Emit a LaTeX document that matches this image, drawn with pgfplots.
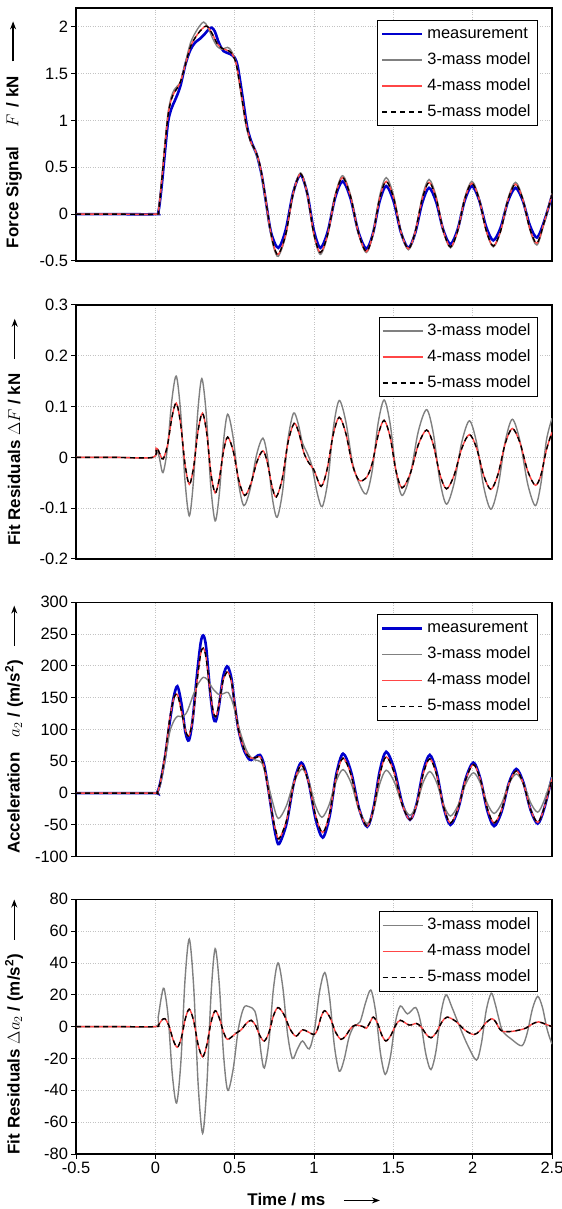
\documentclass[border=0pt]{standalone}
\usepackage{pgfplots}
\pgfplotsset{compat=1.18}
\usepackage{pgfplotstable}
\usetikzlibrary{arrows.meta}
\usepackage{fontspec}
\setmainfont{Liberation Sans}

\definecolor{measblue}{RGB}{0,0,205}
\definecolor{mgray}{RGB}{128,128,128}
\definecolor{mred}{RGB}{255,70,70}
\definecolor{gridgray}{RGB}{195,195,195}

\newcommand{\yarrow}{\tikz[baseline=-0.6ex]\draw[-{Stealth[length=8bp,width=6bp]},line width=1.2bp](0,0)--(40bp,0);}

% ---------- Panel 1: force ----------
\pgfplotstableread[row sep=\\]{x y\\
-0.5 0\\ -0.25 0\\ 0 0\\ 0.02 0.03\\ 0.04 0.3\\ 0.06 0.65\\ 0.08 0.98\\ 0.10 1.12\\ 0.12 1.2\\ 0.14 1.28\\ 0.16 1.38\\ 0.19 1.6\\ 0.22 1.75\\ 0.25 1.83\\ 0.28 1.87\\ 0.31 1.92\\ 0.335 1.97\\ 0.355 1.99\\ 0.375 1.95\\ 0.40 1.83\\ 0.43 1.74\\ 0.47 1.71\\ 0.50 1.67\\ 0.52 1.57\\ 0.55 1.25\\ 0.58 0.92\\ 0.61 0.75\\ 0.64 0.63\\ 0.67 0.42\\ 0.70 0.10\\ 0.73 -0.20\\ 0.775 -0.36\\
0.822 -0.165\\ 0.868 0.225\\ 0.915 0.42\\ 0.957 0.225\\ 0.998 -0.165\\ 1.04 -0.36\\ 1.087 -0.183\\ 1.133 0.173\\ 1.18 0.35\\ 1.23 0.17\\ 1.28 -0.19\\ 1.33 -0.37\\ 1.372 -0.203\\ 1.413 0.133\\ 1.455 0.30\\ 1.502 0.135\\ 1.548 -0.195\\ 1.595 -0.36\\ 1.638 -0.2\\ 1.682 0.12\\ 1.725 0.28\\ 1.77 0.13\\ 1.815 -0.17\\ 1.86 -0.32\\ 1.905 -0.165\\ 1.95 0.145\\ 1.995 0.30\\ 2.04 0.155\\ 2.085 -0.135\\ 2.13 -0.28\\ 2.177 -0.14\\ 2.223 0.14\\ 2.27 0.28\\ 2.315 0.148\\ 2.36 -0.118\\ 2.405 -0.25\\ 2.45 -0.08\\ 2.5 0.2\\
}\Fmeas
\pgfplotstableread[row sep=\\]{x y\\
-0.5 0\\ -0.25 0\\ 0 0\\ 0.02 0.04\\ 0.04 0.37\\ 0.06 0.75\\ 0.08 1.08\\ 0.10 1.25\\ 0.12 1.33\\ 0.14 1.37\\ 0.16 1.42\\ 0.19 1.62\\ 0.22 1.82\\ 0.25 1.93\\ 0.28 2.01\\ 0.305 2.05\\ 0.33 2.0\\ 0.36 1.88\\ 0.39 1.79\\ 0.42 1.76\\ 0.455 1.78\\ 0.48 1.74\\ 0.51 1.6\\ 0.54 1.28\\ 0.57 0.96\\ 0.60 0.77\\ 0.63 0.67\\ 0.66 0.5\\ 0.69 0.2\\ 0.72 -0.14\\ 0.745 -0.35\\ 0.775 -0.45\\
0.822 -0.228\\ 0.868 0.218\\ 0.915 0.44\\ 0.957 0.223\\ 0.998 -0.213\\ 1.04 -0.43\\ 1.087 -0.22\\ 1.133 0.2\\ 1.18 0.41\\ 1.23 0.205\\ 1.28 -0.205\\ 1.33 -0.41\\ 1.372 -0.21\\ 1.413 0.19\\ 1.455 0.39\\ 1.502 0.198\\ 1.548 -0.188\\ 1.595 -0.38\\ 1.638 -0.193\\ 1.682 0.183\\ 1.725 0.37\\ 1.77 0.188\\ 1.815 -0.178\\ 1.86 -0.36\\ 1.905 -0.183\\ 1.95 0.173\\ 1.995 0.35\\ 2.04 0.175\\ 2.085 -0.175\\ 2.13 -0.35\\ 2.177 -0.178\\ 2.223 0.168\\ 2.27 0.34\\ 2.315 0.173\\ 2.36 -0.163\\ 2.405 -0.33\\ 2.45 -0.1\\ 2.5 0.22\\
}\Fthree
\pgfplotstableread[row sep=\\]{x y\\
-0.5 0\\ -0.25 0\\ 0 0\\ 0.02 0.04\\ 0.04 0.35\\ 0.06 0.72\\ 0.08 1.05\\ 0.10 1.22\\ 0.12 1.3\\ 0.14 1.35\\ 0.16 1.42\\ 0.19 1.6\\ 0.22 1.78\\ 0.25 1.88\\ 0.28 1.95\\ 0.31 2.0\\ 0.33 2.0\\ 0.36 1.92\\ 0.39 1.82\\ 0.42 1.77\\ 0.45 1.75\\ 0.48 1.72\\ 0.51 1.6\\ 0.54 1.3\\ 0.57 0.98\\ 0.60 0.78\\ 0.63 0.68\\ 0.66 0.52\\ 0.69 0.22\\ 0.72 -0.12\\ 0.745 -0.33\\ 0.775 -0.43\\
0.822 -0.215\\ 0.868 0.215\\ 0.915 0.43\\ 0.957 0.22\\ 0.998 -0.2\\ 1.04 -0.41\\ 1.087 -0.21\\ 1.133 0.19\\ 1.18 0.39\\ 1.23 0.19\\ 1.28 -0.2\\ 1.33 -0.40\\ 1.372 -0.21\\ 1.413 0.16\\ 1.455 0.35\\ 1.502 0.17\\ 1.548 -0.19\\ 1.595 -0.37\\ 1.638 -0.19\\ 1.682 0.16\\ 1.725 0.34\\ 1.77 0.168\\ 1.815 -0.178\\ 1.86 -0.35\\ 1.905 -0.18\\ 1.95 0.16\\ 1.995 0.33\\ 2.04 0.163\\ 2.085 -0.173\\ 2.13 -0.34\\ 2.177 -0.175\\ 2.223 0.155\\ 2.27 0.32\\ 2.315 0.163\\ 2.36 -0.153\\ 2.405 -0.31\\ 2.45 -0.09\\ 2.5 0.21\\
}\Ffour

% ---------- Panel 2: force residuals ----------
\pgfplotstableread[row sep=\\]{x y\\
-0.5 0\\ -0.25 0\\ -0.015 0\\ 0.005 0.016\\ 0.025 0.0\\ 0.048 -0.03\\ 0.076 0.0175\\ 0.104 0.1125\\ 0.132 0.16\\ 0.159 0.091\\ 0.187 -0.046\\ 0.214 -0.115\\ 0.240 -0.0475\\ 0.267 0.0875\\ 0.293 0.155\\ 0.321 0.085\\ 0.349 -0.055\\ 0.377 -0.125\\ 0.403 -0.0725\\ 0.430 0.0325\\ 0.456 0.085\\ 0.49 0.04\\ 0.524 -0.05\\ 0.558 -0.095\\ 0.598 -0.062\\ 0.638 0.005\\ 0.678 0.038\\ 0.708 -0.001\\ 0.737 -0.079\\ 0.767 -0.118\\ 0.802 -0.067\\ 0.836 0.036\\ 0.871 0.087\\ 0.899 0.068\\ 0.927 0.029\\ 0.955 0.01\\ 0.987 -0.017\\ 1.02 -0.07\\ 1.052 -0.097\\ 1.088 -0.045\\ 1.123 0.06\\ 1.159 0.112\\ 1.2 0.0715\\ 1.242 -0.0095\\ 1.283 -0.05\\ 1.329 -0.072\\ 1.367 -0.026\\ 1.404 0.067\\ 1.442 0.113\\ 1.48 0.066\\ 1.517 -0.028\\ 1.555 -0.075\\ 1.607 -0.033\\ 1.658 0.052\\ 1.71 0.094\\ 1.752 0.0475\\ 1.793 -0.0455\\ 1.835 -0.092\\ 1.883 -0.051\\ 1.932 0.031\\ 1.98 0.072\\ 2.025 0.0285\\ 2.07 -0.0585\\ 2.115 -0.102\\ 2.16 -0.058\\ 2.205 0.031\\ 2.25 0.075\\ 2.298 0.0325\\ 2.347 -0.0525\\ 2.395 -0.095\\ 2.43 -0.052\\ 2.465 0.034\\ 2.5 0.077\\
}\dFthree
\pgfplotstableread[row sep=\\]{x y\\
-0.5 0\\ -0.25 0\\ -0.015 0\\ 0.005 0.018\\ 0.02 0.013\\ 0.035 0.002\\ 0.05 -0.003\\ 0.077 0.0245\\ 0.105 0.0795\\ 0.132 0.107\\ 0.159 0.067\\ 0.187 -0.013\\ 0.214 -0.053\\ 0.242 -0.018\\ 0.269 0.052\\ 0.297 0.087\\ 0.324 0.0478\\ 0.35 -0.0308\\ 0.377 -0.07\\ 0.403 -0.0425\\ 0.43 0.0125\\ 0.456 0.04\\ 0.492 0.0113\\ 0.527 -0.0463\\ 0.563 -0.075\\ 0.601 -0.053\\ 0.64 -0.009\\ 0.678 0.013\\ 0.706 -0.0098\\ 0.734 -0.0553\\ 0.762 -0.078\\ 0.8 -0.0418\\ 0.837 0.0308\\ 0.875 0.067\\ 0.905 0.0478\\ 0.936 0.0093\\ 0.966 -0.01\\ 1.0 -0.025\\ 1.045 -0.057\\ 1.083 -0.023\\ 1.121 0.045\\ 1.159 0.079\\ 1.2 0.048\\ 1.242 -0.014\\ 1.283 -0.045\\ 1.33 -0.04\\ 1.367 -0.0118\\ 1.405 0.0448\\ 1.442 0.073\\ 1.48 0.0398\\ 1.517 -0.0268\\ 1.555 -0.06\\ 1.607 -0.0315\\ 1.658 0.0255\\ 1.71 0.054\\ 1.752 0.025\\ 1.793 -0.033\\ 1.835 -0.062\\ 1.883 -0.0353\\ 1.932 0.0183\\ 1.98 0.045\\ 2.025 0.018\\ 2.07 -0.036\\ 2.115 -0.063\\ 2.16 -0.033\\ 2.205 0.027\\ 2.25 0.057\\ 2.298 0.029\\ 2.347 -0.027\\ 2.395 -0.055\\ 2.43 -0.035\\ 2.465 0.015\\ 2.5 0.05\\
}\dFfour

% ---------- Panel 3: acceleration ----------
\pgfplotstableread[row sep=\\]{x y\\
-0.5 0\\ -0.25 0\\ 0 0\\ 0.01 0\\ 0.03 15\\ 0.06 55\\ 0.09 110\\ 0.115 150\\ 0.139 168\\ 0.165 140\\ 0.19 95\\ 0.212 83\\ 0.235 115\\ 0.26 180\\ 0.285 235\\ 0.302 248\\ 0.32 230\\ 0.345 160\\ 0.365 120\\ 0.381 113\\ 0.40 135\\ 0.425 180\\ 0.445 197\\ 0.459 198\\ 0.48 180\\ 0.50 140\\ 0.524 100\\ 0.555 70\\ 0.585 55\\ 0.604 52\\ 0.635 57\\ 0.66 60\\ 0.685 45\\ 0.71 10\\ 0.74 -40\\ 0.76 -68\\ 0.78 -80\\
0.827 -48\\ 0.873 16\\ 0.92 48\\ 0.965 18.5\\ 1.01 -40.5\\ 1.055 -70\\ 1.098 -37\\ 1.14 29\\ 1.183 62\\ 1.234 33.25\\ 1.284 -24.25\\ 1.335 -53\\ 1.375 -23.5\\ 1.415 35.5\\ 1.455 65\\ 1.505 38.25\\ 1.555 -15.25\\ 1.605 -42\\ 1.647 -16.5\\ 1.688 34.5\\ 1.73 60\\ 1.773 32.5\\ 1.817 -22.5\\ 1.86 -50\\ 1.908 -25.5\\ 1.957 23.5\\ 2.005 48\\ 2.048 23\\ 2.092 -27\\ 2.135 -52\\ 2.182 -29.5\\ 2.228 15.5\\ 2.275 38\\ 2.32 16.5\\ 2.365 -26.5\\ 2.41 -48\\ 2.45 -25\\ 2.5 25\\
}\Ameas
\pgfplotstableread[row sep=\\]{x y\\
-0.5 0\\ -0.25 0\\ 0 0\\ 0.01 0\\ 0.03 12\\ 0.06 50\\ 0.09 95\\ 0.12 115\\ 0.143 121\\ 0.17 120\\ 0.2 128\\ 0.24 155\\ 0.27 172\\ 0.302 182\\ 0.33 178\\ 0.36 165\\ 0.4 155\\ 0.435 157\\ 0.46 158\\ 0.49 140\\ 0.53 100\\ 0.57 70\\ 0.6 57\\ 0.63 52\\ 0.67 48\\ 0.7 25\\ 0.74 -15\\ 0.775 -40\\
0.825 -20.5\\ 0.875 18.5\\ 0.925 38\\ 0.967 19\\ 1.008 -19\\ 1.05 -38\\ 1.094 -19.25\\ 1.139 18.25\\ 1.183 37\\ 1.234 15.75\\ 1.284 -26.75\\ 1.335 -48\\ 1.375 -27\\ 1.415 15\\ 1.455 36\\ 1.505 18.25\\ 1.555 -17.25\\ 1.605 -35\\ 1.647 -17.75\\ 1.688 16.75\\ 1.73 34\\ 1.773 16.5\\ 1.817 -18.5\\ 1.86 -36\\ 1.908 -19\\ 1.957 15\\ 2.005 32\\ 2.048 16\\ 2.092 -16\\ 2.135 -32\\ 2.182 -16.5\\ 2.228 14.5\\ 2.275 30\\ 2.32 15\\ 2.365 -15\\ 2.41 -30\\ 2.45 -12\\ 2.5 25\\
}\Athree
\pgfplotstableread[row sep=\\]{x y\\
-0.5 0\\ -0.25 0\\ 0 0\\ 0.01 0\\ 0.03 15\\ 0.06 58\\ 0.09 115\\ 0.115 148\\ 0.139 155\\ 0.165 128\\ 0.19 98\\ 0.212 90\\ 0.235 115\\ 0.26 170\\ 0.285 218\\ 0.302 228\\ 0.32 213\\ 0.345 160\\ 0.365 128\\ 0.381 120\\ 0.40 138\\ 0.425 175\\ 0.445 188\\ 0.459 190\\ 0.48 175\\ 0.50 140\\ 0.524 100\\ 0.555 72\\ 0.585 58\\ 0.604 55\\ 0.635 56\\ 0.66 57\\ 0.685 42\\ 0.71 8\\ 0.74 -38\\ 0.76 -60\\ 0.78 -72\\
0.827 -43\\ 0.873 15\\ 0.92 44\\ 0.965 17.5\\ 1.01 -35.5\\ 1.055 -62\\ 1.098 -32.75\\ 1.14 25.75\\ 1.183 55\\ 1.234 28.25\\ 1.284 -25.25\\ 1.335 -52\\ 1.375 -24.75\\ 1.415 29.75\\ 1.455 57\\ 1.505 32.25\\ 1.555 -17.25\\ 1.605 -42\\ 1.647 -18\\ 1.688 30\\ 1.73 54\\ 1.773 28.75\\ 1.817 -21.75\\ 1.86 -47\\ 1.908 -24\\ 1.957 22\\ 2.005 45\\ 2.048 22\\ 2.092 -24\\ 2.135 -47\\ 2.182 -26.5\\ 2.228 14.5\\ 2.275 35\\ 2.32 14.75\\ 2.365 -25.75\\ 2.41 -46\\ 2.45 -24\\ 2.5 22\\
}\Afour

% ---------- Panel 4: acceleration residuals ----------
\pgfplotstableread[row sep=\\]{x y\\
-0.5 0\\ -0.25 0\\ 0 0\\ 0.018 6\\ 0.037 18\\ 0.055 24\\ 0.081 6\\ 0.107 -30\\ 0.134 -48\\ 0.161 -22.25\\ 0.187 29.25\\ 0.214 55\\ 0.242 24.5\\ 0.27 -36.5\\ 0.298 -67\\ 0.324 -38\\ 0.351 20\\ 0.377 49\\ 0.403 26.75\\ 0.43 -17.75\\ 0.456 -40\\ 0.49 -27\\ 0.524 -1\\ 0.558 12\\ 0.592 12.5\\ 0.626 10\\ 0.646 1\\ 0.667 -17\\ 0.687 -26\\ 0.716 -9.5\\ 0.744 23.5\\ 0.773 40\\ 0.803 25\\ 0.834 -5\\ 0.864 -20\\ 0.896 -14\\ 0.928 -9\\ 0.97 -14\\ 1.003 -2\\ 1.035 22\\ 1.068 34\\ 1.098 18.5\\ 1.129 -12.5\\ 1.159 -28\\ 1.189 -21\\ 1.22 -7\\ 1.25 0\\ 1.29 3\\ 1.325 15\\ 1.358 23\\ 1.388 9.75\\ 1.419 -16.75\\ 1.449 -30\\ 1.481 -19.25\\ 1.512 2.25\\ 1.544 13\\ 1.589 8\\ 1.641 12\\ 1.673 2.25\\ 1.705 -17.25\\ 1.737 -27\\ 1.769 -15.25\\ 1.8 8.25\\ 1.832 20\\ 1.87 12\\ 1.918 0\\ 1.97 -12\\ 2.024 -21\\ 2.055 -10.5\\ 2.086 10.5\\ 2.117 21\\ 2.14 15\\ 2.165 5\\ 2.19 -3\\ 2.246 -8\\ 2.31 -12\\ 2.343 -4.25\\ 2.377 11.25\\ 2.41 19\\ 2.44 12\\ 2.47 -2\\ 2.5 -11\\
}\dAthree
\pgfplotstableread[row sep=\\]{x y\\
-0.5 0\\ -0.25 0\\ 0 0\\ 0.02 1\\ 0.04 4\\ 0.06 5\\ 0.086 0.5\\ 0.113 -8.5\\ 0.139 -13\\ 0.164 -7\\ 0.189 5\\ 0.214 11\\ 0.242 3.5\\ 0.27 -11.5\\ 0.298 -19\\ 0.324 -11.75\\ 0.351 2.75\\ 0.377 10\\ 0.403 5.5\\ 0.43 -3.5\\ 0.456 -8\\ 0.51 -4\\ 0.541 -2\\ 0.573 2\\ 0.604 4\\ 0.632 0.75\\ 0.659 -5.75\\ 0.687 -9\\ 0.716 -3.75\\ 0.744 6.75\\ 0.773 12\\ 0.811 7.5\\ 0.849 -1.5\\ 0.887 -6\\ 0.93 -2\\ 1.0 -5\\ 1.023 -1.25\\ 1.045 6.25\\ 1.068 10\\ 1.102 5.5\\ 1.136 -3.5\\ 1.17 -8\\ 1.2 -5.75\\ 1.23 -1.25\\ 1.26 1\\ 1.31 0\\ 1.33 -1\\ 1.352 2.5\\ 1.374 6\\ 1.4 2.25\\ 1.427 -5.25\\ 1.453 -9\\ 1.483 -5.75\\ 1.514 0.75\\ 1.544 4\\ 1.6 1\\ 1.646 2\\ 1.676 -0.25\\ 1.707 -4.75\\ 1.737 -7\\ 1.771 -3.75\\ 1.805 2.75\\ 1.839 6\\ 1.895 3.25\\ 1.952 -2.25\\ 2.008 -5\\ 2.046 -2.5\\ 2.084 2.5\\ 2.122 5\\ 2.145 3\\ 2.167 -1\\ 2.19 -3\\ 2.245 -3\\ 2.3 -2\\ 2.339 -0.75\\ 2.377 1.75\\ 2.416 3\\ 2.46 1.5\\ 2.5 0\\
}\dAfour

\pgfplotsset{
  base/.style={
    scale only axis, width=476bp, anchor=south west,
    xmin=-0.5, xmax=2.5, xtick={-0.5,0,0.5,1,1.5,2,2.5},
    enlargelimits=false, clip=true,
    axis line style={black, line width=1.3bp},
    xmajorgrids, ymajorgrids,
    major grid style={gridgray, dotted, line width=0.8bp},
    tick align=outside, tick pos=left, major tick length=4.5bp,
    major tick style={black, line width=1bp},
    tick label style={font=\fontsize{16.5}{19}\selectfont},
    label style={font=\fontsize{17}{20}\selectfont},
    ylabel style={at={(axis description cs:-0.13,0.5)}, anchor=center, rotate=0},
    /pgf/number format/assume math mode=true,
    /pgf/number format/fixed,
    legend cell align=left,
    legend image code/.code={\draw[##1] (0bp,0bp) -- (40bp,0bp);},
    legend style={at={(1,1)}, anchor=north east, xshift=-14bp, yshift=-12bp,
      draw=black, line width=0.8bp, fill=white,
      font=\fontsize{16.5}{19}\selectfont,
      inner xsep=3bp, inner ysep=2bp, row sep=2.5bp,
      nodes={text height=12bp, text depth=3.5bp, inner sep=4bp}},
  },
  upper/.style={xticklabels={}, xtick style={draw=none}},
  meas/.style={color=measblue, line width=2.6bp, smooth},
  mthree/.style={color=mgray, line width=1.4bp, smooth},
  mfour/.style={color=mred, line width=1.4bp, smooth},
  mfive/.style={color=black, line width=1.4bp, dash pattern=on 5bp off 4bp, smooth},
}

\begin{document}
\begin{tikzpicture}
\path[use as bounding box] (0,0) rectangle (562bp,1209bp);

\begin{axis}[base, upper, at={(76bp,948bp)}, height=253bp,
  ymin=-0.5, ymax=2.2, ytick={-0.5,0,0.5,1,1.5,2},
  ylabel={\bfseries Force Signal\hspace{1.1em}$F$\hspace{0.45em}/ kN\hspace{14bp}\yarrow}]
\addplot[meas] table {\Fmeas};
\addlegendentry{measurement}
\addplot[mthree] table {\Fthree};
\addlegendentry{3-mass model}
\addplot[mfour] table {\Ffour};
\addlegendentry{4-mass model}
\addplot[mfive] table {\Ffour};
\addlegendentry{5-mass model}
\end{axis}

\begin{axis}[base, upper, at={(76bp,650bp)}, height=254bp,
  ymin=-0.2, ymax=0.3, ytick={-0.2,-0.1,0,0.1,0.2,0.3},
  ylabel={\bfseries Fit Residuals $\Delta F$ / kN\hspace{14bp}\yarrow}]
\addplot[mthree] table {\dFthree};
\addlegendentry{3-mass model}
\addplot[mfour] table {\dFfour};
\addlegendentry{4-mass model}
\addplot[mfive] table {\dFfour};
\addlegendentry{5-mass model}
\end{axis}

\begin{axis}[base, upper, at={(76bp,352.3bp)}, height=254.4bp,
  ymin=-100, ymax=300, ytick={-100,-50,0,50,100,150,200,250,300},
  ylabel={\bfseries Acceleration\hspace{0.9em}$a_2$ / (m/s\textsuperscript{2})\hspace{14bp}\yarrow}]
\addplot[meas] table {\Ameas};
\addlegendentry{measurement}
\addplot[mthree] table {\Athree};
\addlegendentry{3-mass model}
\addplot[mfour] table {\Afour};
\addlegendentry{4-mass model}
\addplot[mfive] table {\Afour};
\addlegendentry{5-mass model}
\end{axis}

\begin{axis}[base, at={(76bp,55bp)}, height=254.7bp,
  ymin=-80, ymax=80, ytick={-80,-60,-40,-20,0,20,40,60,80},
  ylabel={\bfseries Fit Residuals $\Delta a_2$ / (m/s\textsuperscript{2})\hspace{14bp}\yarrow},
  xlabel={\bfseries Time / ms\hspace{18bp}\tikz[baseline=-0.6ex]\draw[-{Stealth[length=8bp,width=6bp]},line width=1.2bp](0,0)--(36bp,0);},
  xlabel style={at={(axis description cs:0.5,-0.18)}, anchor=center}]
\addplot[mthree] table {\dAthree};
\addlegendentry{3-mass model}
\addplot[mfour] table {\dAfour};
\addlegendentry{4-mass model}
\addplot[mfive] table {\dAfour};
\addlegendentry{5-mass model}
\end{axis}
\end{tikzpicture}
\end{document}
